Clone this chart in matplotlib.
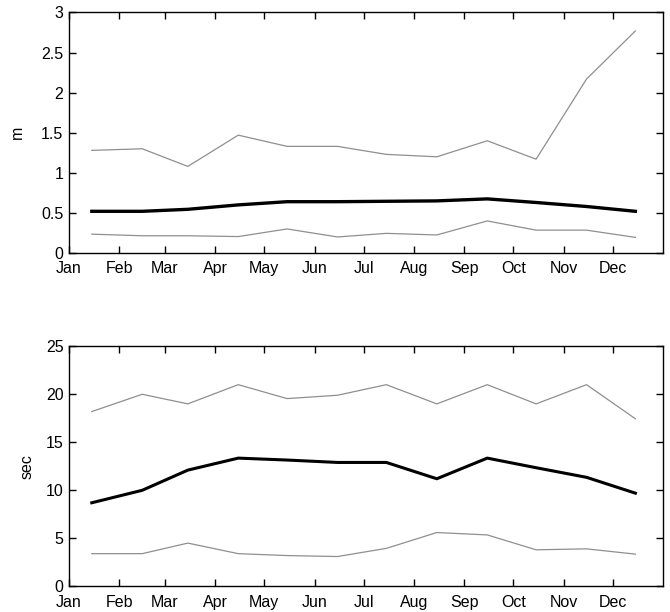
import matplotlib
matplotlib.use("Agg")
import matplotlib.pyplot as plt
from matplotlib.ticker import FuncFormatter

plt.rcParams['font.family'] = ['Liberation Sans', 'DejaVu Sans']

# day-of-year (0-based) of the 15th of each month
days = [14, 45, 73, 104, 134, 165, 195, 226, 257, 287, 318, 348]
month_starts = [0, 31, 59, 90, 120, 151, 181, 212, 243, 273, 304, 334]
month_labels = ['Jan', 'Feb', 'Mar', 'Apr', 'May', 'Jun',
                'Jul', 'Aug', 'Sep', 'Oct', 'Nov', 'Dec']

# wave height (m)
hs_max = [1.28, 1.30, 1.08, 1.47, 1.33, 1.33, 1.23, 1.20, 1.40, 1.17, 2.17, 2.77]
hs_mean = [0.52, 0.52, 0.545, 0.60, 0.64, 0.64, 0.645, 0.65, 0.675, 0.63, 0.58, 0.52]
hs_min = [0.235, 0.215, 0.215, 0.205, 0.30, 0.20, 0.245, 0.225, 0.40, 0.285, 0.285, 0.195]

# wave period (sec)
tp_max = [18.2, 20.0, 19.0, 21.0, 19.55, 19.9, 21.0, 19.0, 21.0, 19.0, 21.0, 17.45]
tp_mean = [8.7, 10.0, 12.1, 13.35, 13.15, 12.9, 12.9, 11.2, 13.35, 12.35, 11.35, 9.7]
tp_min = [3.4, 3.4, 4.5, 3.4, 3.2, 3.1, 3.95, 5.6, 5.35, 3.8, 3.9, 3.35]

gray = '#8f8f8f'

fig = plt.figure(figsize=(6.7, 6.12), dpi=100)
ax1 = fig.add_axes([0.103, 0.5866, 0.8866, 0.393])
ax2 = fig.add_axes([0.103, 0.042, 0.8866, 0.3922])

def style(ax, ylim, yticks, ylabel, labelpad):
    ax.set_xlim(0, 365)
    ax.set_ylim(*ylim)
    ax.set_xticks(month_starts)
    ax.set_xticklabels(month_labels)
    ax.set_yticks(yticks)
    ax.yaxis.set_major_formatter(FuncFormatter(lambda v, p: ('%g' % v)))
    ax.tick_params(direction='in', length=5, width=1, top=True, right=True,
                   labelsize=11.5, colors='black')
    ax.tick_params(axis='x', pad=6)
    ax.tick_params(axis='y', pad=4)
    for s in ax.spines.values():
        s.set_linewidth(1.0)
        s.set_color('black')
    ax.set_ylabel(ylabel, fontsize=11.5, labelpad=labelpad)

ax1.plot(days, hs_max, color=gray, lw=0.9)
ax1.plot(days, hs_min, color=gray, lw=0.9)
ax1.plot(days, hs_mean, color='black', lw=2.4)
style(ax1, (0, 3), [0, 0.5, 1, 1.5, 2, 2.5, 3], 'm', 12)

ax2.plot(days, tp_max, color=gray, lw=0.9)
ax2.plot(days, tp_min, color=gray, lw=0.9)
ax2.plot(days, tp_mean, color='black', lw=2.2)
style(ax2, (0, 25), [0, 5, 10, 15, 20, 25], 'sec', 8)

fig.savefig('out.png', dpi=100)
